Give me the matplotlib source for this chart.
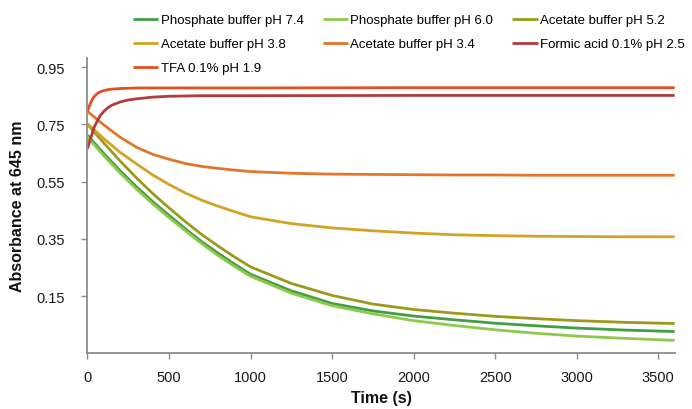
import matplotlib
matplotlib.use("Agg")
import matplotlib.pyplot as plt

plt.rcParams['font.family'] = ['Liberation Sans', 'DejaVu Sans']

# Time points (s) for the read-off values
t_fast = [0, 10, 20, 30, 40, 50, 60, 80, 100, 125, 150, 200, 250, 300, 400, 500, 700, 1000, 2000, 3600]
t_slow = [0, 100, 200, 300, 400, 500, 600, 700, 800, 900, 1000, 1250, 1500, 1750, 2000,
          2250, 2500, 2750, 3000, 3300, 3600]

labels = ["Phosphate buffer pH 7.4", "Phosphate buffer pH 6.0", "Acetate buffer pH 5.2",
          "Acetate buffer pH 3.8", "Acetate buffer pH 3.4", "Formic acid 0.1% pH 2.5",
          "TFA 0.1% pH 1.9"]
colors = ["#3f9f42", "#8fc94c", "#9b9a1c", "#d2a424", "#e2762c", "#b33b3b", "#e2501f"]

phos74 = [0.712, 0.648, 0.588, 0.532, 0.480, 0.432, 0.385, 0.340, 0.300, 0.262, 0.226,
          0.168, 0.124, 0.098, 0.080, 0.067, 0.055, 0.046, 0.038, 0.031, 0.026]
phos60 = [0.705, 0.640, 0.580, 0.524, 0.472, 0.424, 0.378, 0.333, 0.292, 0.254, 0.219,
          0.160, 0.116, 0.088, 0.064, 0.047, 0.032, 0.020, 0.010, 0.002, -0.005]
acet52 = [0.750, 0.685, 0.622, 0.563, 0.508, 0.458, 0.410, 0.365, 0.325, 0.287, 0.252,
          0.194, 0.152, 0.122, 0.103, 0.090, 0.079, 0.071, 0.064, 0.058, 0.054]
acet38 = [0.752, 0.700, 0.652, 0.612, 0.573, 0.540, 0.510, 0.485, 0.464, 0.445, 0.427,
          0.403, 0.388, 0.378, 0.370, 0.364, 0.361, 0.359, 0.358, 0.357, 0.357]
acet34 = [0.795, 0.748, 0.705, 0.670, 0.645, 0.628, 0.613, 0.603, 0.596, 0.590, 0.585,
          0.579, 0.576, 0.575, 0.574, 0.573, 0.573, 0.572, 0.572, 0.572, 0.572]
formic = [0.665, 0.684, 0.702, 0.720, 0.738, 0.750, 0.762, 0.782, 0.795, 0.808, 0.817,
          0.828, 0.835, 0.839, 0.845, 0.848, 0.850, 0.850, 0.851, 0.851]
tfa    = [0.795, 0.812, 0.826, 0.837, 0.846, 0.852, 0.857, 0.864, 0.868, 0.871, 0.873,
          0.875, 0.876, 0.877, 0.877, 0.877, 0.877, 0.877, 0.878, 0.878]

series = [(t_slow, phos74), (t_slow, phos60), (t_slow, acet52), (t_slow, acet38),
          (t_slow, acet34), (t_fast, formic), (t_fast, tfa)]

yticks = [0.15, 0.35, 0.55, 0.75, 0.95]
xticks = [0, 500, 1000, 1500, 2000, 2500, 3000, 3500]

fig = plt.figure(figsize=(6.92, 4.10), dpi=100)
ax = fig.add_axes([0.1264, 0.1359, 0.8485, 0.719])

handles = []
for (tt, vv), lab, c in zip(series, labels, colors):
    h, = ax.plot(tt, vv, color=c, lw=2.0, label=lab, solid_capstyle='butt',
                 solid_joinstyle='round')
    handles.append(h)

ax.set_xlim(0, 3600)
ax.set_ylim(-0.05, 0.98)
ax.set_yticks(yticks)
ax.set_yticklabels([f"{v:.2f}" for v in yticks])
ax.set_xticks(xticks)
ax.set_xticklabels([str(v) for v in xticks])

for s in ['top', 'right']:
    ax.spines[s].set_visible(False)
for s in ['left', 'bottom']:
    ax.spines[s].set_color('#8c8c8c')
    ax.spines[s].set_linewidth(1.3)
ax.tick_params(axis='both', direction='out', length=4, width=1.0, color='#8c8c8c',
               labelsize=10.5, labelcolor='#1a1a1a')
ax.tick_params(axis='y', pad=12)
ax.tick_params(axis='x', pad=8)

fig.text(18 / 692, 1 - 206.5 / 410, "Absorbance at 645 nm", rotation=90, ha='center', va='center',
         fontsize=11.5, fontweight='bold', color='#111111')
fig.text(381 / 692, 1 - 399 / 410, "Time (s)", ha='center', va='center',
         fontsize=11.5, fontweight='bold', color='#111111')

order = [0, 3, 6, 1, 4, 2, 5]
leg = fig.legend([handles[i] for i in order], [labels[i] for i in order],
                 ncol=3, loc='upper left', bbox_to_anchor=(133 / 692, 1 - 15 / 410),
                 frameon=False, fontsize=9.5, handlelength=1.9, handletextpad=0.2,
                 columnspacing=1.45, labelspacing=0.9, borderpad=0, borderaxespad=0)

fig.savefig("out.png", dpi=100)
